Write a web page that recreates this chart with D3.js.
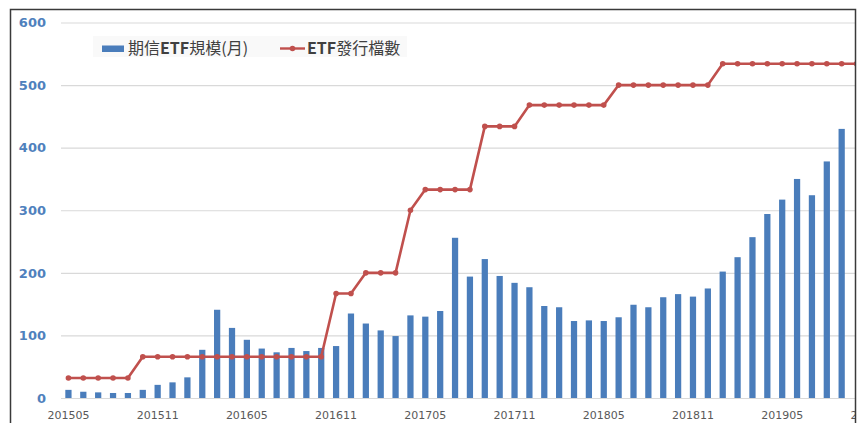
<!DOCTYPE html>
<html>
<head>
<meta charset="utf-8">
<script src="https://cdn.jsdelivr.net/npm/d3@7"></script>
<style>
  body { margin: 0; background: #fff; }
  svg { display: block; }
</style>
</head>
<body>
<script>
// months on the category axis (label every 6th)
var months = [
  "201505","201506","201507","201508","201509","201510","201511","201512",
  "201601","201602","201603","201604","201605","201606","201607","201608","201609","201610","201611","201612",
  "201701","201702","201703","201704","201705","201706","201707","201708","201709","201710","201711","201712",
  "201801","201802","201803","201804","201805","201806","201807","201808","201809","201810","201811","201812",
  "201901","201902","201903","201904","201905","201906","201907","201908","201909","201910","201911"
];
var tickMonths = ["201505","201511","201605","201611","201705","201711","201805","201811","201905","201911"];
var yTicks = [0, 100, 200, 300, 400, 500, 600];

// 期信ETF規模(月)
var fundSize = [
  13, 10, 9, 8, 8, 13, 21, 25, 33, 77,
  141, 112, 93, 79, 73, 80, 75, 80, 83, 135,
  119, 108, 99, 132, 130, 139, 256, 194, 222, 195,
  184, 177, 147, 145, 123, 124, 123, 129, 149, 145,
  161, 166, 162, 175, 202, 225, 257, 294, 317, 350,
  324, 378, 430
];
// ETF發行檔數
var etfCount = [
  32, 32, 32, 32, 32, 66, 66, 66, 66, 66,
  66, 66, 66, 66, 66, 66, 66, 66, 167, 167,
  200, 200, 200, 300, 333, 333, 333, 333, 434, 434,
  434, 468, 468, 468, 468, 468, 468, 500, 500, 500,
  500, 500, 500, 500, 534, 534, 534, 534, 534, 534,
  534, 534, 534, 534
];

var W = 858, H = 423;
var blue = "#4a7dbb", red = "#c0504d";

var svg = d3.select("body").append("svg").attr("width", W).attr("height", H);

svg.append("defs").append("clipPath").attr("id", "frame-clip")
  .append("rect").attr("x", 10).attr("y", 9).attr("width", 845).attr("height", 420);

var x = d3.scaleBand()
  .domain(months)
  .range([61, 61 + months.length * 14.87])
  .paddingInner(0.58)
  .paddingOuter(0.29);

var y = d3.scaleLinear().domain([0, 600]).range([398, 22.5]);

var chart = svg.append("g").attr("clip-path", "url(#frame-clip)");

// gridlines + y labels
var yAxis = chart.append("g")
  .attr("transform", "translate(61,0)")
  .call(d3.axisLeft(y).tickValues(yTicks).tickSize(-794).tickPadding(15));
yAxis.select(".domain").remove();
yAxis.selectAll("line").attr("stroke", "#d9d9d9").attr("stroke-width", 1.2);
yAxis.selectAll("text")
  .attr("fill", "#4f81bd")
  .style("font-family", "DejaVu Sans, sans-serif")
  .style("font-size", "13px")
  .style("font-weight", "700");

// x labels
var xAxis = chart.append("g")
  .attr("transform", "translate(0,398)")
  .call(d3.axisBottom(x).tickValues(tickMonths).tickSize(0).tickPadding(13.5));
xAxis.select(".domain").remove();
xAxis.selectAll("text")
  .attr("fill", "#595959")
  .style("font-family", "DejaVu Sans, sans-serif")
  .style("font-size", "11px");

// bars
chart.append("g")
  .selectAll("rect")
  .data(fundSize)
  .enter()
  .append("rect")
  .attr("x", function (d, i) { return x(months[i]); })
  .attr("y", function (d) { return y(d); })
  .attr("width", x.bandwidth())
  .attr("height", function (d) { return y(0) - y(d); })
  .attr("fill", blue);

// line
var cx = function (i) { return x(months[i]) + x.bandwidth() / 2; };
var line = d3.line()
  .x(function (d, i) { return cx(i); })
  .y(function (d) { return y(d); });

chart.append("path")
  .datum(etfCount)
  .attr("d", line)
  .attr("fill", "none")
  .attr("stroke", red)
  .attr("stroke-width", 2.6)
  .attr("stroke-linejoin", "round");

chart.append("g")
  .selectAll("circle")
  .data(etfCount)
  .enter()
  .append("circle")
  .attr("cx", function (d, i) { return cx(i); })
  .attr("cy", function (d) { return y(d); })
  .attr("r", 2.8)
  .attr("fill", red);

// legend
var legend = svg.append("g");
legend.append("rect")
  .attr("x", 93).attr("y", 36).attr("width", 314).attr("height", 21)
  .attr("fill", "#f9f9f9");
legend.append("rect")
  .attr("x", 102).attr("y", 45.5).attr("width", 22).attr("height", 6.5)
  .attr("fill", blue);
var t1 = legend.append("text")
  .attr("x", 128).attr("y", 54)
  .attr("fill", "#404040")
  .style("font-family", "Noto Sans CJK TC, sans-serif")
  .style("font-size", "16px");
t1.append("tspan").text("期信");
t1.append("tspan").style("font-weight", "700").text("ETF");
t1.append("tspan").text("規模(月)");

legend.append("line")
  .attr("x1", 280).attr("x2", 305).attr("y1", 48.5).attr("y2", 48.5)
  .attr("stroke", red).attr("stroke-width", 2.4);
legend.append("circle")
  .attr("cx", 292.5).attr("cy", 48.5).attr("r", 2.8).attr("fill", red);
var t2 = legend.append("text")
  .attr("x", 307).attr("y", 54)
  .attr("fill", "#404040")
  .style("font-family", "Noto Sans CJK TC, sans-serif")
  .style("font-size", "16px");
t2.append("tspan").style("font-weight", "700").text("ETF");
t2.append("tspan").text("發行檔數");

// frame
svg.append("rect")
  .attr("x", 10.5).attr("y", 9.5).attr("width", 845).attr("height", 430)
  .attr("fill", "none")
  .attr("stroke", "#3a3a3a")
  .attr("stroke-width", 1.5);
</script>
</body>
</html>
